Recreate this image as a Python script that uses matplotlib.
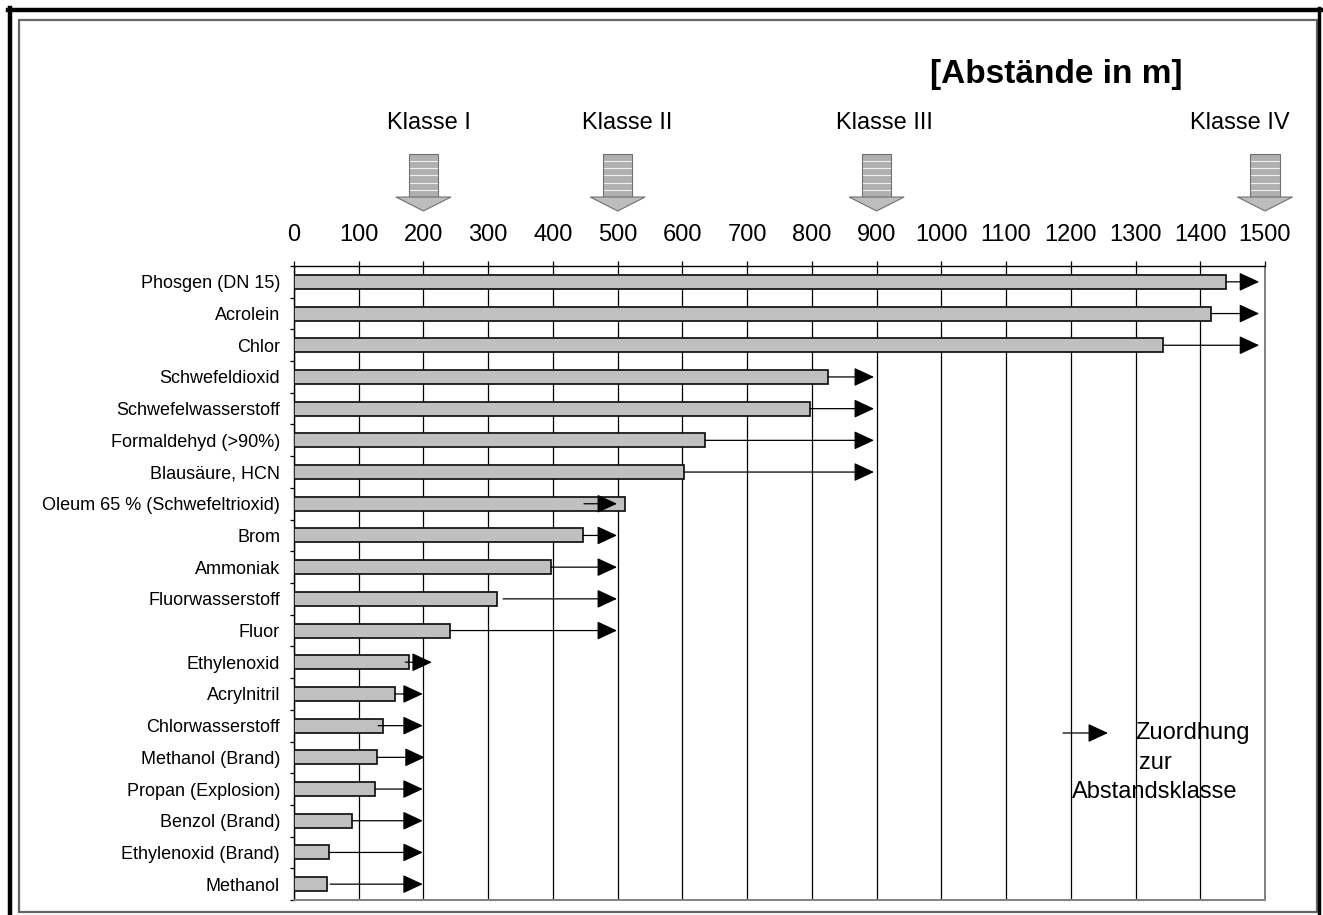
import matplotlib.pyplot as plt
import matplotlib.transforms as mtransforms
from matplotlib.patches import Polygon, Rectangle
from matplotlib.lines import Line2D
import numpy as np

plt.rcParams['font.family'] = ['Liberation Sans', 'DejaVu Sans']

substances = ["Phosgen (DN 15)", "Acrolein", "Chlor", "Schwefeldioxid",
              "Schwefelwasserstoff", "Formaldehyd (>90%)", "Blausäure, HCN",
              "Oleum 65 % (Schwefeltrioxid)", "Brom", "Ammoniak",
              "Fluorwasserstoff", "Fluor", "Ethylenoxid", "Acrylnitril",
              "Chlorwasserstoff", "Methanol (Brand)", "Propan (Explosion)",
              "Benzol (Brand)", "Ethylenoxid (Brand)", "Methanol"]
distances = [1440, 1417, 1343, 825, 797, 635, 603, 512, 447, 397,
             314, 241, 178, 156, 138, 128, 125, 90, 54, 51]
arrow_start = [1440, 1417, 1343, 825, 797, 635, 603, 448, 447, 397,
               323, 241, 172, 156, 130, 128, 125, 90, 54, 56]
arrow_end = [1491, 1491, 1491, 896, 896, 896, 896, 499, 499, 499,
             499, 499, 213, 199, 199, 202, 199, 199, 199, 199]

classes = [200, 500, 900, 1500]
class_names = ["Klasse I", "Klasse II", "Klasse III", "Klasse IV"]
label_shift = [9, 15, 12, -39]
x_ticks = list(range(0, 1501, 100))

W, H = 1323, 915
fig = plt.figure(figsize=(W / 100, H / 100), dpi=100)

# pixel overlay for frame, title and legend
over = fig.add_axes([0, 0, 1, 1])
over.set_xlim(0, W)
over.set_ylim(H, 0)
over.axis('off')
over.add_line(Line2D([10, 10], [8, 915], color='black', lw=3.2))
over.add_line(Line2D([8, 1323], [10, 10], color='black', lw=3.2))
over.add_line(Line2D([1319, 1319], [8, 915], color='black', lw=2.5))
over.add_patch(Rectangle((18.5, 19.5), 1298, 892, fill=False, ec='#666666', lw=1.6))
over.text(1056, 74, "[Abstände in m]", fontsize=24, fontweight='bold', ha='center', va='center')
over.annotate('', xy=(1108, 733), xytext=(1063, 733),
              arrowprops=dict(arrowstyle='-|>,head_length=1.25,head_width=0.58',
                              color='black', lw=0.9, mutation_scale=10,
                              shrinkA=0, shrinkB=0))
over.text(1135, 733, "Zuordhung", fontsize=17, ha='left', va='center', zorder=5)
over.text(1139, 763, "zur", fontsize=17, ha='left', va='center', zorder=5)
over.text(1072, 792, "Abstandsklasse", fontsize=17, ha='left', va='center', zorder=5)

ax = fig.add_axes([294 / W, 15 / H, (1265 - 294) / W, (900 - 266) / H])
ax.patch.set_alpha(0)
y = np.arange(len(substances))
ax.barh(y, distances, height=0.44, color='#c0c0c0', edgecolor='#111111', lw=1.25, zorder=3)
for i in range(len(substances)):
    ax.annotate('', xy=(arrow_end[i], i), xytext=(arrow_start[i], i),
                arrowprops=dict(arrowstyle='-|>,head_length=1.25,head_width=0.58',
                                color='black', lw=0.9, mutation_scale=10,
                                shrinkA=0, shrinkB=0), zorder=4)

ax.set_xlim(0, 1500)
ax.set_ylim(len(substances) - 0.5, -0.5)
ax.xaxis.tick_top()
ax.set_xticks(x_ticks)
ax.set_xticklabels([str(t) for t in x_ticks], fontsize=17)
ax.tick_params(axis='x', direction='out', length=3.6, width=0.9, pad=11, colors='black')
ax.set_yticks(y)
ax.set_yticklabels(substances, fontsize=13)
ax.tick_params(axis='y', which='major', length=0, pad=10)
ax.set_yticks(np.arange(-0.5, len(substances), 1), minor=True)
ax.tick_params(axis='y', which='minor', direction='out', length=3, width=0.9)
ax.grid(axis='x', color='black', lw=0.9, zorder=1)
ax.set_axisbelow(True)
for side in ['top', 'left']:
    ax.spines[side].set_color('black')
    ax.spines[side].set_linewidth(1.0)
for side in ['right', 'bottom']:
    ax.spines[side].set_color('#808080')
    ax.spines[side].set_linewidth(1.4)

# class arrows above the axis
blend = mtransforms.blended_transform_factory(ax.transData, ax.transAxes)
shaft_half = 22.4
head_half = 42.5
y_top, y_bot, y_tip = 1.1767, 1.1088, 1.0868
for c, name, dx in zip(classes, class_names, label_shift):
    ax.add_patch(Rectangle((c - shaft_half, y_bot), 2 * shaft_half, y_top - y_bot,
                           transform=blend, fc='#b0b0b0', ec='#707070', lw=0.8,
                           clip_on=False, zorder=5))
    for k in range(1, 6):
        yy = y_bot + (y_top - y_bot) * k / 6
        ax.add_line(Line2D([c - shaft_half + 1.5, c + shaft_half - 1.5], [yy, yy],
                           transform=blend, color='#eeeeee', lw=0.8, clip_on=False, zorder=6))
    ax.add_patch(Polygon([(c - head_half, y_bot), (c + head_half, y_bot), (c, y_tip)],
                         closed=True, transform=blend, fc='#bdbdbd', ec='#707070',
                         lw=0.8, clip_on=False, zorder=6))
    ax.text(c + dx, 1.226, name, transform=blend, fontsize=17, ha='center', va='center')

fig.savefig('out.png', dpi=100)
